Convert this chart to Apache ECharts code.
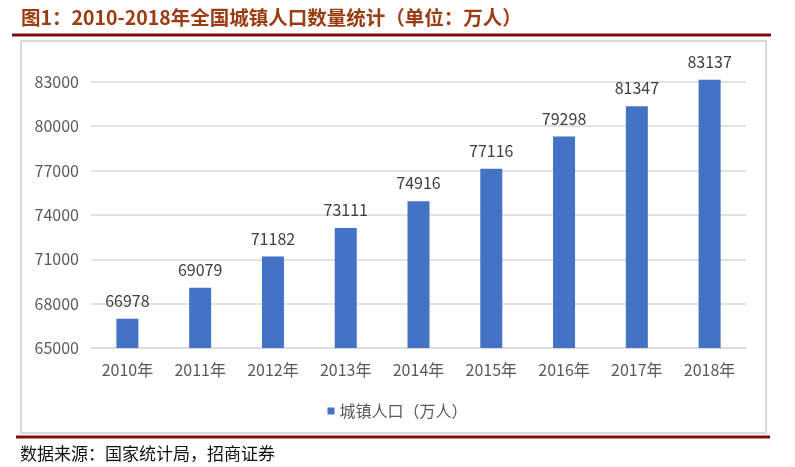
<!DOCTYPE html>
<html>
<head>
<meta charset="utf-8">
<script src="https://cdn.jsdelivr.net/npm/echarts@6/dist/echarts.min.js"></script>
<style>
  html, body { margin: 0; padding: 0; background: #fff; }
  #chart { width: 795px; height: 467px; }
</style>
</head>
<body>
<div id="chart"></div>
<script>
  // 年份 / 城镇人口（万人）
  var years = ['2010年', '2011年', '2012年', '2013年', '2014年', '2015年', '2016年', '2017年', '2018年'];
  var urbanPop = [66978, 69079, 71182, 73111, 74916, 77116, 79298, 81347, 83137];
  var seriesName = '城镇人口（万人）';
  var titleText = '图1：2010-2018年全国城镇人口数量统计（单位：万人）';
  var sourceText = '数据来源：国家统计局，招商证券';

  var font = '"Noto Sans CJK SC", "Noto Sans", sans-serif';
  var chart = echarts.init(document.getElementById('chart'));

  chart.setOption({
    animation: false,
    textStyle: { fontFamily: font },
    // 84000 留白在顶部，不画线不标注
    grid: { left: 91, right: 49, top: 67, bottom: 119 },
    legend: {
      data: [seriesName],
      top: 398,
      left: 'center',
      icon: 'rect',
      itemWidth: 7,
      itemHeight: 7,
      itemGap: 6,
      textStyle: { fontSize: 16, color: '#595959', fontFamily: font }
    },
    xAxis: {
      type: 'category',
      data: years,
      axisTick: { show: false },
      axisLine: { lineStyle: { color: '#d9d9d9', width: 1.5 } },
      axisLabel: { fontSize: 16, color: '#595959', margin: 14, fontFamily: font }
    },
    yAxis: {
      type: 'value',
      min: 65000,
      max: 84000,
      interval: 3000,
      axisLine: { show: false },
      axisTick: { show: false },
      axisLabel: {
        fontSize: 16, color: '#595959', margin: 12, fontFamily: font,
        showMaxLabel: false,
        formatter: function (v) { return String(v); }
      },
      splitLine: { showMaxLine: false, lineStyle: { color: '#d9d9d9', width: 1.5 } }
    },
    series: [{
      name: seriesName,
      type: 'bar',
      data: urbanPop,
      barWidth: 22,
      itemStyle: { color: '#4472c4' },
      label: {
        show: true,
        position: 'top',
        distance: 10,
        fontSize: 16,
        color: '#404040',
        fontFamily: font
      }
    }],
    graphic: [
      {
        type: 'rect',
        shape: { x: 21, y: 41, width: 745, height: 392 },
        style: { fill: 'none', stroke: '#d9d9d9', lineWidth: 2 },
        z: -1
      },
      {
        type: 'text',
        left: 21,
        top: 8,
        style: {
          text: titleText,
          fontSize: 19.5,
          fontWeight: 'bold',
          fill: '#9a3b12',
          fontFamily: font
        }
      },
      {
        type: 'line',
        shape: { x1: 12, y1: 35, x2: 771, y2: 35 },
        style: { stroke: '#820a0a', lineWidth: 3 }
      },
      {
        type: 'line',
        shape: { x1: 16, y1: 437, x2: 770, y2: 437 },
        style: { stroke: '#820a0a', lineWidth: 3 }
      },
      {
        type: 'text',
        left: 20,
        top: 445,
        style: {
          text: sourceText,
          fontSize: 17,
          fill: '#111',
          fontFamily: font
        }
      }
    ]
  });
</script>
</body>
</html>
